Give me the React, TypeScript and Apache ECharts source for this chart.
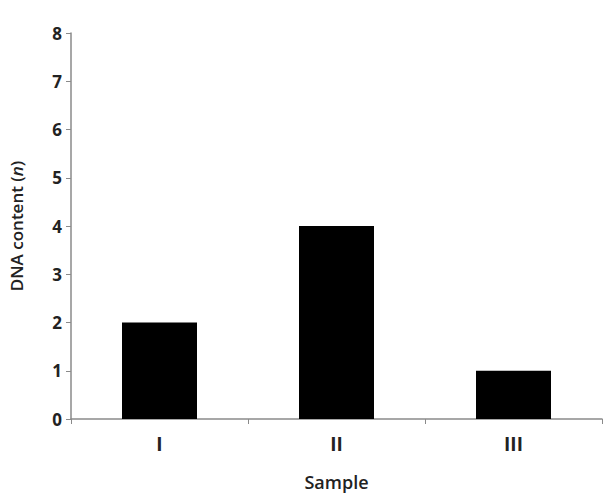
import React, { useEffect, useRef } from "react";
import * as echarts from "echarts";

const categories = ["I", "II", "III"];
const dnaContent = [2, 4, 1];
const yTicks = [0, 1, 2, 3, 4, 5, 6, 7, 8];

export default function App() {
  const ref = useRef<HTMLDivElement>(null);
  useEffect(() => {
    if (!ref.current) return;
    const chart = echarts.init(ref.current, undefined, { renderer: "svg" });
    const font = "'Open Sans', 'Noto Sans', sans-serif";
    chart.setOption({
      animation: false,
      backgroundColor: "#ffffff",
      grid: { left: 69, right: 9, top: 33, bottom: 76, containLabel: false },
      xAxis: {
        type: "category",
        data: categories,
        boundaryGap: true,
        name: "Sample",
        nameLocation: "middle",
        nameGap: 54,
        nameTextStyle: { color: "#222", fontSize: 18, fontWeight: 600, fontFamily: font },
        axisLine: { lineStyle: { color: "#8a8a8a", width: 1.5 } },
        axisTick: { show: true, alignWithLabel: false, length: 5, lineStyle: { color: "#8a8a8a" } },
        axisLabel: { color: "#222", fontSize: 19, fontWeight: 700, fontFamily: font, margin: 15 },
      },
      yAxis: {
        type: "value",
        min: yTicks[0],
        max: yTicks[yTicks.length - 1],
        interval: 1,
        name: "{a|DNA content (}{b|n}{a|)}",
        nameLocation: "middle",
        nameGap: 46,
        nameRotate: 90,
        nameTextStyle: {
          rich: {
            a: { color: "#222", fontSize: 17, fontWeight: 600, fontFamily: font },
            b: { color: "#222", fontSize: 17, fontWeight: 600, fontStyle: "italic", fontFamily: font },
          },
        },
        splitLine: { show: false },
        axisLine: { show: true, lineStyle: { color: "#8a8a8a", width: 1.5 } },
        axisTick: { show: true, inside: false, length: 5, lineStyle: { color: "#8a8a8a" } },
        axisLabel: { color: "#222", fontSize: 17, fontWeight: 700, fontFamily: font, margin: 9 },
      },
      series: [
        {
          type: "bar",
          data: dnaContent,
          barWidth: 75,
          itemStyle: { color: "#000000" },
        },
      ],
    });
    return () => chart.dispose();
  }, []);
  return <div ref={ref} style={{ width: 611, height: 496, position: "absolute", left: 0, top: 0 }} />;
}
